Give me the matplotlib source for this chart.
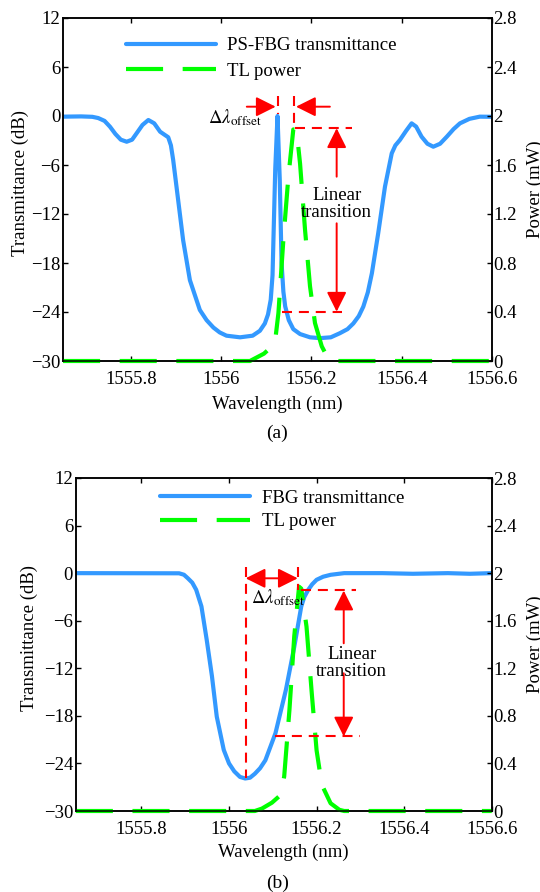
import matplotlib
matplotlib.use('Agg')
import matplotlib.pyplot as plt

plt.rcParams['font.family'] = ['Liberation Serif', 'DejaVu Serif']
plt.rcParams['mathtext.fontset'] = 'stix'
plt.rcParams['axes.unicode_minus'] = True

# ---------------- data ----------------
# (a) PS-FBG transmittance
wl_a = [1555.651, 1555.690, 1555.715, 1555.728, 1555.742, 1555.754, 1555.766, 1555.778,
        1555.791, 1555.803, 1555.813, 1555.826, 1555.839, 1555.852, 1555.865, 1555.875,
        1555.883, 1555.889, 1555.894, 1555.905, 1555.916, 1555.931, 1555.953, 1555.968,
        1555.983, 1555.997, 1556.012, 1556.042, 1556.070, 1556.086, 1556.097, 1556.104,
        1556.110, 1556.114, 1556.117, 1556.120, 1556.125, 1556.130, 1556.134, 1556.138,
        1556.142, 1556.150, 1556.160, 1556.175, 1556.197, 1556.219, 1556.243, 1556.263,
        1556.280, 1556.293, 1556.305, 1556.315, 1556.325, 1556.334, 1556.348, 1556.363,
        1556.378, 1556.386, 1556.396, 1556.410, 1556.422, 1556.432, 1556.444, 1556.457,
        1556.470, 1556.485, 1556.500, 1556.515, 1556.529, 1556.550, 1556.573, 1556.600]
T_a = [-0.08, -0.05, -0.1, -0.25, -0.6, -1.31, -2.2, -2.9,
       -3.15, -2.9, -2.12, -1.1, -0.49, -0.9, -1.92, -2.3,
       -2.6, -3.6, -5.39, -10.29, -15.2, -20.1, -23.75, -25.0,
       -25.9, -26.5, -26.9, -27.1, -26.9, -26.3, -25.4, -24.3,
       -22.5, -19.5, -13.0, -6.5, 0.0, -7.8, -18.0, -21.5,
       -23.3, -25.0, -26.1, -26.7, -27.1, -27.2, -27.1, -26.6,
       -26.1, -25.4, -24.5, -23.35, -21.6, -19.26, -14.36, -8.65,
       -4.57, -3.6, -2.94, -1.8, -0.9, -1.3, -2.53, -3.4,
       -3.76, -3.4, -2.53, -1.6, -0.9, -0.35, -0.08, -0.1]
# (a) TL power
wlP_a = [1555.65, 1556.064, 1556.095, 1556.119, 1556.127, 1556.138, 1556.149, 1556.160,
         1556.167, 1556.175, 1556.186, 1556.197, 1556.208, 1556.223, 1556.240, 1556.6]
P_a = [0.0, 0.0, 0.06, 0.14, 0.39, 0.99, 1.50, 1.89,
       1.89, 1.61, 1.07, 0.61, 0.31, 0.12, 0.0, 0.0]

# (b) FBG transmittance
wl_b = [1555.65, 1555.886, 1555.897, 1555.906, 1555.916, 1555.925, 1555.937, 1555.949,
        1555.961, 1555.972, 1555.988, 1556.000, 1556.012, 1556.025, 1556.037, 1556.048,
        1556.059, 1556.071, 1556.083, 1556.106, 1556.130, 1556.149, 1556.165, 1556.172,
        1556.181, 1556.190, 1556.200, 1556.215, 1556.232, 1556.263, 1556.350, 1556.420,
        1556.500, 1556.550, 1556.600]
T_b = [0.0, -0.02, -0.2, -0.65, -1.2, -2.1, -4.2, -8.4,
       -13.0, -18.1, -22.3, -24.0, -25.0, -25.7, -25.9, -25.8,
       -25.3, -24.6, -23.6, -20.2, -14.7, -9.3, -4.2, -3.0,
       -2.1, -1.4, -0.84, -0.45, -0.21, 0.0, 0.0, -0.08,
       0.0, -0.08, 0.0]
# (b) TL power
wlP_b = [1555.65, 1556.059, 1556.075, 1556.098, 1556.118, 1556.126, 1556.138, 1556.149,
         1556.160, 1556.165, 1556.177, 1556.189, 1556.200, 1556.212, 1556.232, 1556.252,
         1556.263, 1556.6]
P_b = [0.0, 0.0, 0.02, 0.07, 0.135, 0.29, 0.85, 1.47,
       1.886, 1.87, 1.55, 0.99, 0.51, 0.22, 0.065, 0.01,
       0.0, 0.0]

xticks = [1555.8, 1556.0, 1556.2, 1556.4, 1556.6]
xtick_labels = ['1555.8', '1556', '1556.2', '1556.4', '1556.6']
yticks_T = [12, 6, 0, -6, -12, -18, -24, -30]
yticks_P = [0, 0.4, 0.8, 1.2, 1.6, 2.0, 2.4, 2.8]
ytick_labels_P = ['0', '0.4', '0.8', '1.2', '1.6', '2', '2.4', '2.8']

BLUE = '#3399FF'
GREEN = '#00FF00'
RED = '#FF0000'
FS = 13.5

fig = plt.figure(figsize=(5.4, 8.92), dpi=100)


def make_panel(rect, wl, T, wlP, P, blue_label, leg_anchor, leg_space,
               ylab_x, ylab2_x, xlab_y):
    ax = fig.add_axes(rect)
    ax2 = ax.twinx()
    lb, = ax.plot(wl, T, color=BLUE, lw=3.0, solid_capstyle='round', solid_joinstyle='round')
    lg, = ax2.plot(wlP, P, color=GREEN, lw=3.0, dashes=(8.9, 4.7), dash_capstyle='butt',
                   clip_on=False)
    ax.set_xlim(1555.65, 1556.6)
    ax.set_ylim(-30, 12)
    ax2.set_ylim(0, 2.8)
    ax.set_xticks(xticks)
    ax.set_xticklabels(xtick_labels)
    ax.set_yticks(yticks_T)
    ax.set_yticklabels([('\u2212%d' % -v) if v < 0 else '%d' % v for v in yticks_T])
    ax2.set_yticks(yticks_P)
    ax2.set_yticklabels(ytick_labels_P)
    ax.tick_params(axis='x', direction='in', top=True, length=3.6, width=1.0,
                   labelsize=FS, pad=7)
    ax.tick_params(axis='y', direction='in', right=False, length=3.6, width=1.0,
                   labelsize=FS, pad=2)
    ax2.tick_params(axis='y', direction='in', length=3.6, width=1.0, labelsize=FS, pad=1)
    for a in (ax, ax2):
        for s in a.spines.values():
            s.set_linewidth(1.1)
    ax.set_xlabel('Wavelength (nm)', fontsize=FS)
    ax.set_ylabel('Transmittance (dB)', fontsize=FS)
    ax2.set_ylabel('Power (mW)', fontsize=FS)
    ax.xaxis.set_label_coords(0.5, xlab_y)
    ax.yaxis.set_label_coords(ylab_x, 0.52)
    ax2.yaxis.set_label_coords(ylab2_x, 0.5)
    ax2.legend([lb, lg], [blue_label, 'TL power'], loc='center left',
               bbox_to_anchor=leg_anchor, frameon=False, fontsize=FS,
               handlelength=4.8, handletextpad=0.62, borderpad=0, borderaxespad=0,
               labelspacing=leg_space)
    return ax, ax2


def vdash(ax, ax2, x, y0, y1):
    ax2.plot([x, x], [y0, y1], transform=ax.transData, color=RED, lw=1.5,
             dashes=(4.8, 3.3), clip_on=False)


def hdash(ax, ax2, x0, x1, y):
    ax2.plot([x0, x1], [y, y], transform=ax.transData, color=RED, lw=1.5,
             dashes=(4.8, 3.3), clip_on=False)


def arrow(ax, ax2, tail, tip, style='-|>'):
    ax2.annotate('', xy=tip, xytext=tail, xycoords=ax.transData, textcoords=ax.transData,
                 arrowprops=dict(arrowstyle=style + ',head_length=0.6,head_width=0.3',
                                 mutation_scale=20, color=RED, lw=1.4,
                                 shrinkA=0, shrinkB=0))


# ---------------- panel (a) ----------------
axA, axA2 = make_panel([63 / 540, 1 - 361 / 892, 429 / 540, 343 / 892],
                       wl_a, T_a, wlP_a, P_a, 'PS-FBG transmittance',
                       (0.146, 0.882), 0.45, -0.079, 1.0816, -0.1)
vdash(axA, axA2, 1556.125, 2.4, 0.3)
vdash(axA, axA2, 1556.162, 2.4, -1.5)
arrow(axA, axA2, (1556.057, 1.14), (1556.121, 1.14))
arrow(axA, axA2, (1556.241, 1.14), (1556.166, 1.14))
hdash(axA, axA2, 1556.164, 1556.289, -1.5)
hdash(axA, axA2, 1556.134, 1556.267, -23.96)
arrow(axA, axA2, (1556.256, -7.43), (1556.256, -1.5))
arrow(axA, axA2, (1556.256, -13.14), (1556.256, -23.96))
axA2.text(1556.256, -10.78, 'Linear\ntransition', transform=axA.transData,
          ha='center', va='center', fontsize=FS, linespacing=1.0)
axA2.text(1556.090, -0.9, r'$\Delta\lambda_{\mathrm{offset}}$', transform=axA.transData,
          ha='right', va='baseline', fontsize=FS)
fig.text(277 / 540, 1 - 433 / 892, '(a)', ha='center', va='center', fontsize=FS + 0.5)

# ---------------- panel (b) ----------------
axB, axB2 = make_panel([75.8 / 540, 1 - 811 / 892, 415.9 / 540, 333 / 892],
                       wl_b, T_b, wlP_b, P_b, 'FBG transmittance',
                       (0.2025, 0.904), 0.36, -0.091, 1.085, -0.098)
vdash(axB, axB2, 1556.038, 0.81, -25.9)
vdash(axB, axB2, 1556.157, 0.81, -2.12)
arrow(axB, axB2, (1556.038, -0.65), (1556.157, -0.65), style='<|-|>')
hdash(axB, axB2, 1556.165, 1556.291, -2.12)
hdash(axB, axB2, 1556.106, 1556.299, -20.6)
arrow(axB, axB2, (1556.262, -8.85), (1556.262, -2.2))
arrow(axB, axB2, (1556.262, -12.63), (1556.262, -20.6))
axB2.text(1556.280, -11.3, 'Linear\ntransition', transform=axB.transData,
          ha='center', va='center', fontsize=FS, linespacing=1.0)
axB2.text(1556.050, -3.8, r'$\Delta\lambda_{\mathrm{offset}}$', transform=axB.transData,
          ha='left', va='baseline', fontsize=FS)
fig.text(278 / 540, 1 - 883 / 892, '(b)', ha='center', va='center', fontsize=FS + 0.5)

fig.savefig('out.png', dpi=100)
